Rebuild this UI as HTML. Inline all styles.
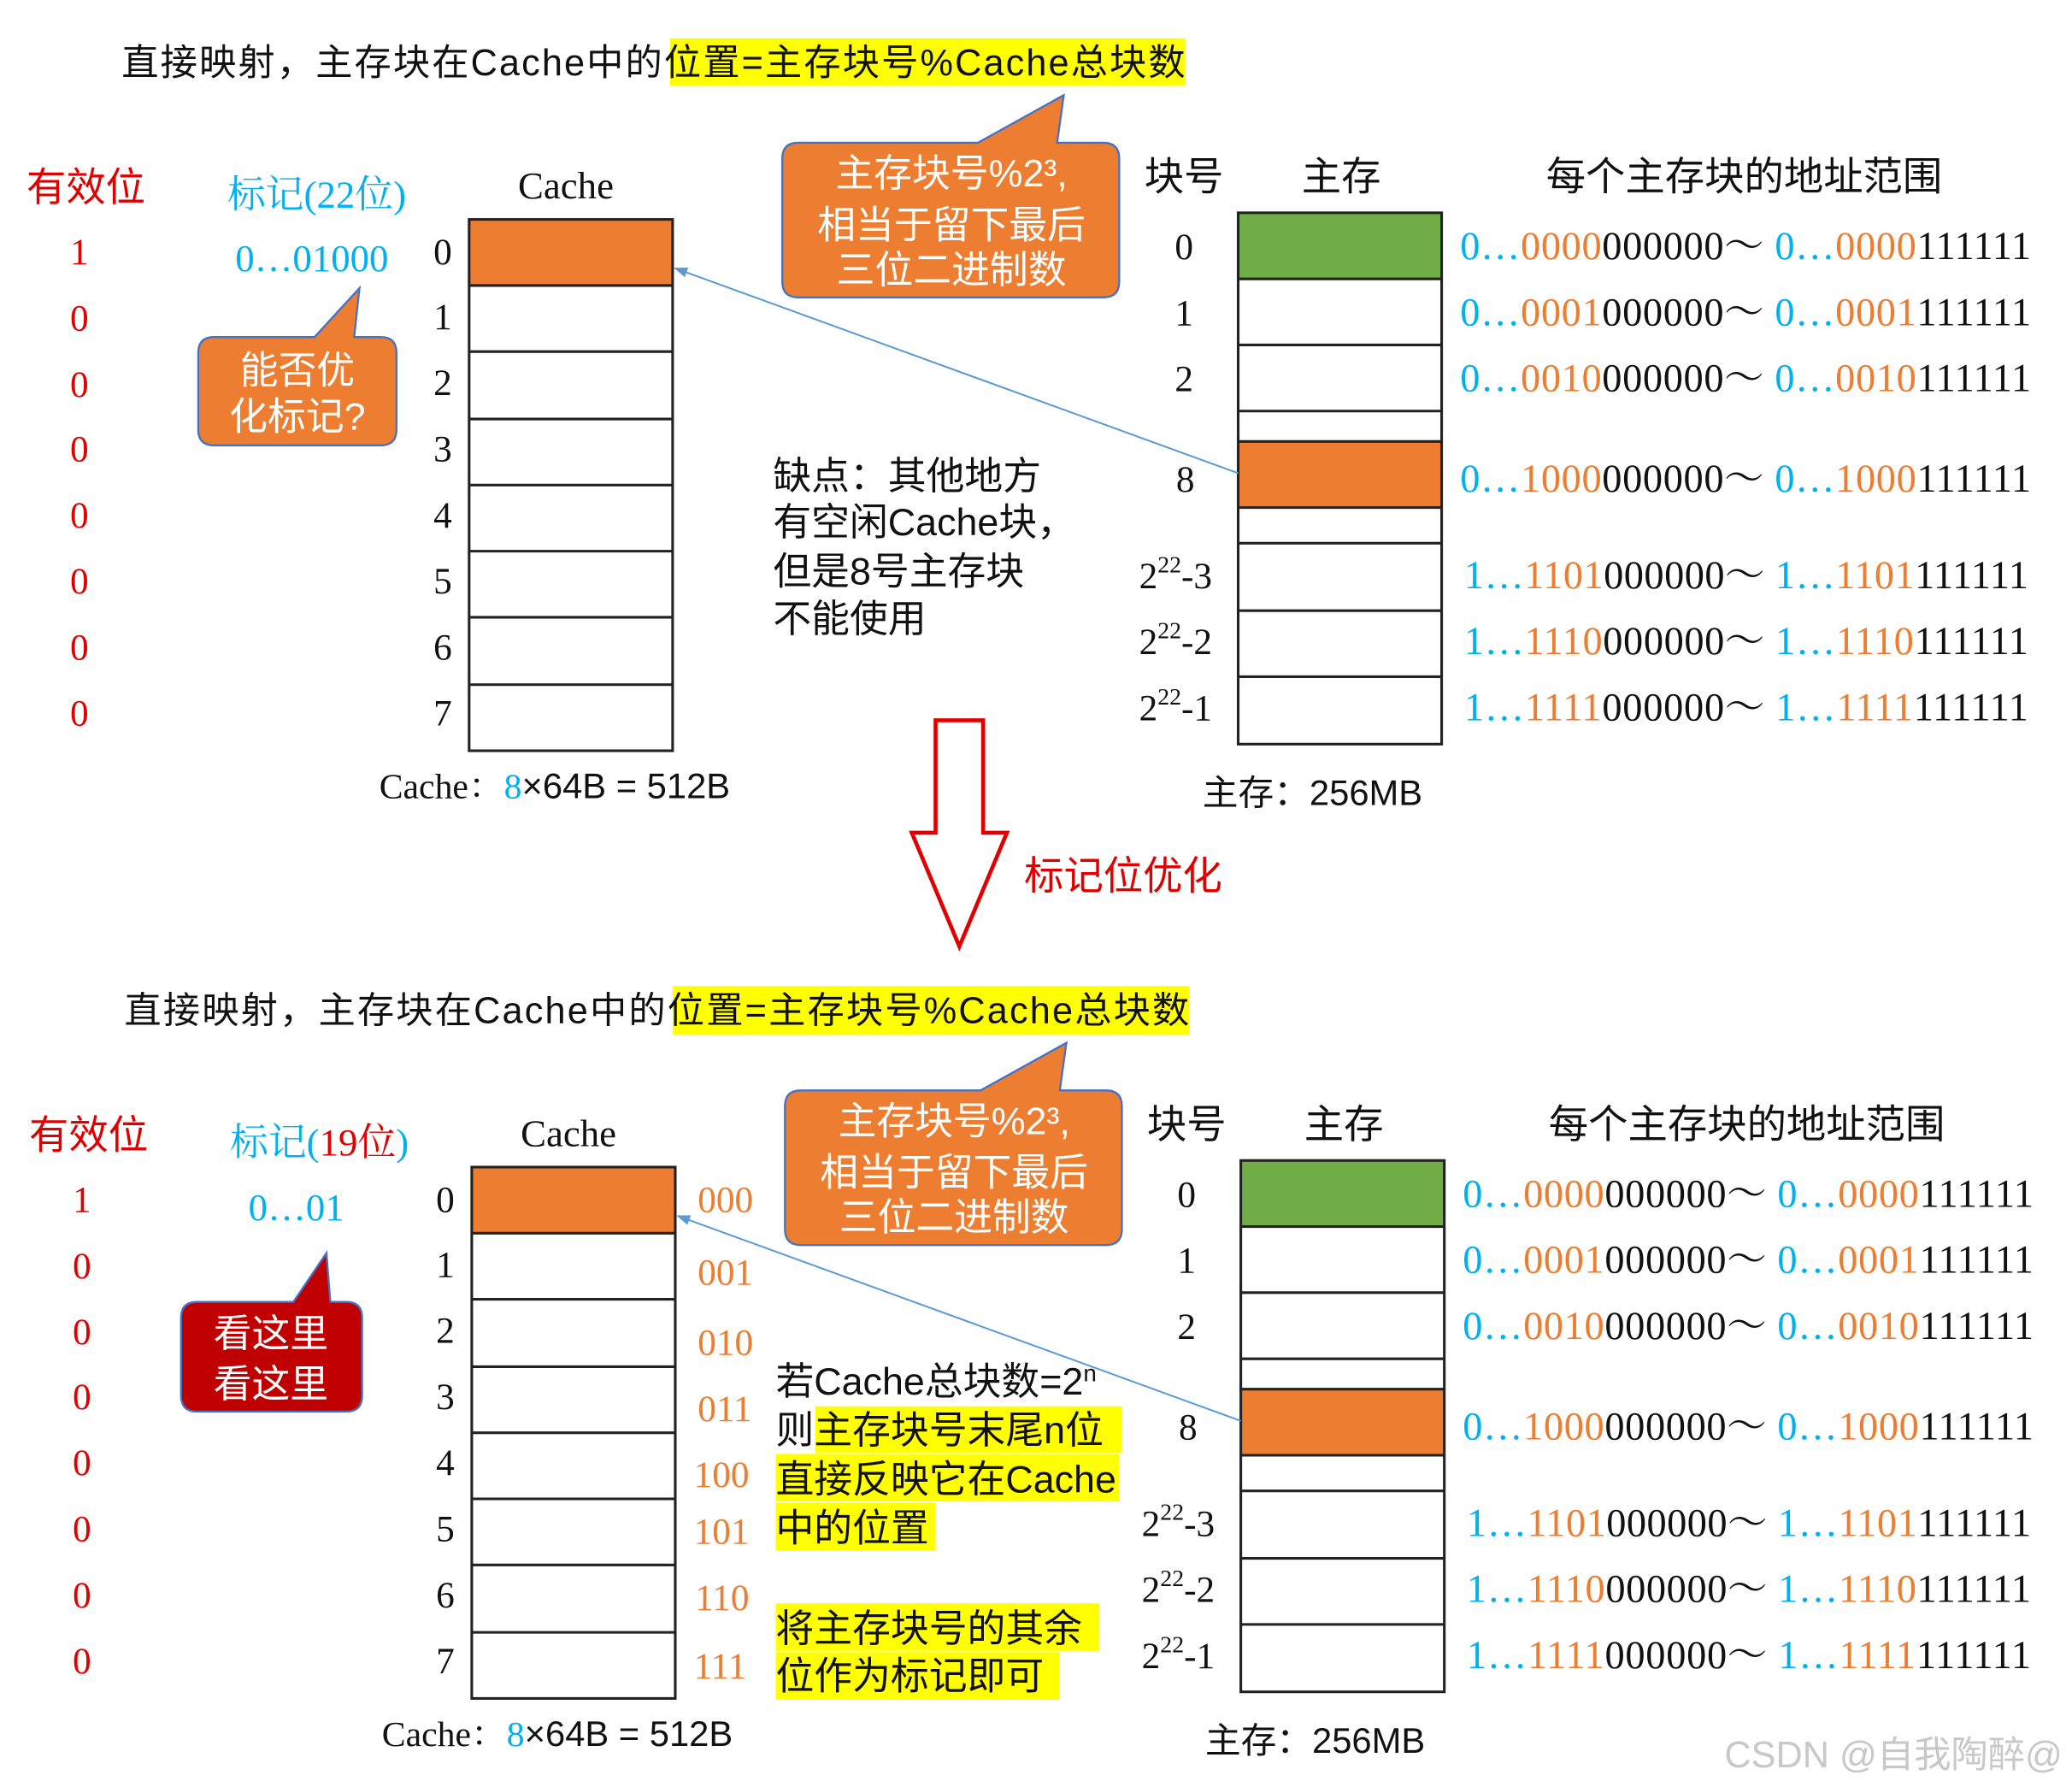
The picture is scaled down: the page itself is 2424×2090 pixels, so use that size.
<!DOCTYPE html>
<html><head><meta charset="utf-8"><style>
html,body{margin:0;padding:0;background:#fff;}
svg{display:block;}
text{font-family:"Liberation Sans","Noto Sans CJK SC",sans-serif;}
.s{font-family:"Liberation Serif","Noto Serif CJK SC",serif;}
</style></head><body>
<svg width="2424" height="2090" viewBox="0 0 1568 1352" xmlns="http://www.w3.org/2000/svg">
<defs>
<marker id="ar" markerWidth="8" markerHeight="8" refX="7" refY="4" orient="auto"><path d="M0,1 L8,4 L0,7 z" fill="#5b9bd5"/></marker>
<g id="panel">
 <text x="20" y="152" font-size="30" fill="#e00000">有效位</text>
 <g fill="#e00000" font-size="28" class="s" text-anchor="middle">
  <text class="s" x="60" y="200">1</text><text class="s" x="60" y="250">0</text><text class="s" x="60" y="300">0</text><text class="s" x="60" y="349">0</text><text class="s" x="60" y="399">0</text><text class="s" x="60" y="449">0</text><text class="s" x="60" y="499">0</text><text class="s" x="60" y="549">0</text>
 </g>
 <text class="s" x="392" y="150" font-size="29" fill="#111">Cache</text>
 <rect x="355" y="166" width="154" height="50" fill="#ed7d31"/>
 <g fill="none" stroke="#222" stroke-width="2">
  <rect x="355" y="166" width="154" height="402"/>
  <line x1="355" y1="216" x2="509" y2="216"/><line x1="355" y1="266" x2="509" y2="266"/><line x1="355" y1="317" x2="509" y2="317"/><line x1="355" y1="367" x2="509" y2="367"/><line x1="355" y1="417" x2="509" y2="417"/><line x1="355" y1="467" x2="509" y2="467"/><line x1="355" y1="518" x2="509" y2="518"/>
 </g>
 <g font-size="28" fill="#111" text-anchor="middle">
  <text class="s" x="335" y="200">0</text><text class="s" x="335" y="249">1</text><text class="s" x="335" y="299">2</text><text class="s" x="335" y="349">3</text><text class="s" x="335" y="399">4</text><text class="s" x="335" y="449">5</text><text class="s" x="335" y="499">6</text><text class="s" x="335" y="549">7</text>
 </g>
 <text x="287" y="604" font-size="27" fill="#111"><tspan class="s">Cache：</tspan><tspan fill="#00b0f0" class="s">8</tspan>×64B = 512B</text>
 <path d="M604,108 L740,108 L805,72 L800,108 L835,108 Q847,108 847,120 L847,213 Q847,225 835,225 L604,225 Q592,225 592,213 L592,120 Q592,108 604,108 z" fill="#ed7d31" stroke="#4472c4" stroke-width="1.5"/>
 <g fill="#fff" font-size="29" text-anchor="middle">
  <text x="720" y="141">主存块号%2³,</text><text x="720" y="180">相当于留下最后</text><text x="720" y="214">三位二进制数</text>
 </g>
 <text x="866" y="144" font-size="30" fill="#111">块号</text>
 <text x="985" y="144" font-size="30" fill="#111">主存</text>
 <text x="1170" y="144" font-size="30" fill="#111">每个主存块的地址范围</text>
 <rect x="937" y="161" width="154" height="50" fill="#70ad47"/>
 <rect x="937" y="334" width="154" height="50" fill="#ed7d31"/>
 <g fill="none" stroke="#222" stroke-width="2">
  <rect x="937" y="161" width="154" height="402"/>
  <line x1="937" y1="211" x2="1091" y2="211"/><line x1="937" y1="261" x2="1091" y2="261"/><line x1="937" y1="311" x2="1091" y2="311"/><line x1="937" y1="334" x2="1091" y2="334"/><line x1="937" y1="384" x2="1091" y2="384"/><line x1="937" y1="411" x2="1091" y2="411"/><line x1="937" y1="462" x2="1091" y2="462"/><line x1="937" y1="512" x2="1091" y2="512"/>
 </g>
 <g font-size="28" fill="#111" text-anchor="middle">
  <text class="s" x="896" y="196">0</text><text class="s" x="896" y="246">1</text><text class="s" x="896" y="296">2</text><text class="s" x="897" y="372">8</text>
 </g>
 <g font-size="28" fill="#111">
  <text class="s" x="862" y="445">2<tspan font-size="18" dy="-12">22</tspan><tspan dy="12">-3</tspan></text>
  <text class="s" x="862" y="495">2<tspan font-size="18" dy="-12">22</tspan><tspan dy="12">-2</tspan></text>
  <text class="s" x="862" y="545">2<tspan font-size="18" dy="-12">22</tspan><tspan dy="12">-1</tspan></text>
 </g>
 <g font-size="30" class="s" fill="#111">
  <text class="s" x="1105" y="196" textLength="432"><tspan fill="#00b0f0">0…</tspan><tspan fill="#ed7d31">0000</tspan>000000～ <tspan fill="#00b0f0">0…</tspan><tspan fill="#ed7d31">0000</tspan>111111</text>
  <text class="s" x="1105" y="246" textLength="432"><tspan fill="#00b0f0">0…</tspan><tspan fill="#ed7d31">0001</tspan>000000～ <tspan fill="#00b0f0">0…</tspan><tspan fill="#ed7d31">0001</tspan>111111</text>
  <text class="s" x="1105" y="296" textLength="432"><tspan fill="#00b0f0">0…</tspan><tspan fill="#ed7d31">0010</tspan>000000～ <tspan fill="#00b0f0">0…</tspan><tspan fill="#ed7d31">0010</tspan>111111</text>
  <text class="s" x="1105" y="372" textLength="432"><tspan fill="#00b0f0">0…</tspan><tspan fill="#ed7d31">1000</tspan>000000～ <tspan fill="#00b0f0">0…</tspan><tspan fill="#ed7d31">1000</tspan>111111</text>
  <text class="s" x="1108" y="445" textLength="427"><tspan fill="#00b0f0">1…</tspan><tspan fill="#ed7d31">1101</tspan>000000～ <tspan fill="#00b0f0">1…</tspan><tspan fill="#ed7d31">1101</tspan>111111</text>
  <text class="s" x="1108" y="495" textLength="427"><tspan fill="#00b0f0">1…</tspan><tspan fill="#ed7d31">1110</tspan>000000～ <tspan fill="#00b0f0">1…</tspan><tspan fill="#ed7d31">1110</tspan>111111</text>
  <text class="s" x="1108" y="545" textLength="427"><tspan fill="#00b0f0">1…</tspan><tspan fill="#ed7d31">1111</tspan>000000～ <tspan fill="#00b0f0">1…</tspan><tspan fill="#ed7d31">1111</tspan>111111</text>
 </g>
 <line x1="937" y1="358" x2="511" y2="203" stroke="#5b9bd5" stroke-width="1.3" marker-end="url(#ar)"/>
 <text x="910" y="609" font-size="27" fill="#111">主存：256MB</text>
</g>
</defs>

<rect x="507" y="29" width="390" height="36" fill="#ffff00"/>
<text x="92" y="57" font-size="28" fill="#111" textLength="805">直接映射，主存块在Cache中的位置=主存块号%Cache总块数</text>
<use href="#panel"/>
<text x="172" y="157" font-size="29" fill="#00b0f0" class="s">标记(22位)</text>
<text x="178" y="205" font-size="29" fill="#00b0f0" class="s">0…01000</text>
<path d="M162,255 L238,255 L272,218 L268,255 L288,255 Q300,255 300,267 L300,325 Q300,337 288,337 L162,337 Q150,337 150,325 L150,267 Q150,255 162,255 z" fill="#ed7d31" stroke="#4472c4" stroke-width="1.5"/>
<text x="225" y="290" font-size="29" fill="#fff" text-anchor="middle">能否优</text>
<text x="225" y="325" font-size="29" fill="#fff" text-anchor="middle">化标记?</text>
<g font-size="29" fill="#111"><text x="585" y="370">缺点：其他地方</text><text x="585" y="405">有空闲Cache块，</text><text x="585" y="442">但是8号主存块</text><text x="585" y="478">不能使用</text></g>
<path d="M708,545 L744,545 L744,630 L762,630 L726,716 L690,630 L708,630 z" fill="#fff" stroke="#e00000" stroke-width="3"/>
<text x="775" y="673" font-size="30" fill="#e00000">标记位优化</text>

<rect x="509" y="746" width="391" height="37" fill="#ffff00"/>
<text x="94" y="774" font-size="28" fill="#111" textLength="806">直接映射，主存块在Cache中的位置=主存块号%Cache总块数</text>
<g transform="translate(2,717)"><use href="#panel"/></g>
<text x="174" y="874" font-size="29" fill="#00b0f0" class="s">标记(<tspan fill="#e00000">19位</tspan>)</text>
<text x="188" y="923" font-size="29" fill="#00b0f0" class="s">0…01</text>
<path d="M149,985 L222,985 L247,948 L250,985 L262,985 Q274,985 274,997 L274,1056 Q274,1068 262,1068 L149,1068 Q137,1068 137,1056 L137,997 Q137,985 149,985 z" fill="#c00000" stroke="#4472c4" stroke-width="1.5"/>
<text x="205" y="1019" font-size="29" fill="#fff" text-anchor="middle">看这里</text>
<text x="205" y="1057" font-size="29" fill="#fff" text-anchor="middle">看这里</text>
<g font-size="28" fill="#ed7d31" class="s">
 <text class="s" x="528" y="917">000</text><text class="s" x="528" y="972">001</text><text class="s" x="528" y="1025">010</text><text class="s" x="528" y="1075">011</text><text class="s" x="525" y="1125">100</text><text class="s" x="525" y="1168">101</text><text class="s" x="526" y="1218">110</text><text class="s" x="525" y="1270">111</text>
</g>
<g fill="#ffff00">
 <rect x="617" y="1064" width="232" height="35"/><rect x="587" y="1100" width="260" height="36"/><rect x="587" y="1137" width="121" height="36"/>
 <rect x="587" y="1213" width="245" height="36"/><rect x="587" y="1250" width="215" height="36"/>
</g>
<g font-size="29" fill="#111">
 <text x="587" y="1055">若Cache总块数=2<tspan font-size="18" dy="-10">n</tspan></text>
 <text x="587" y="1092">则主存块号末尾n位</text>
 <text x="587" y="1129">直接反映它在Cache</text>
 <text x="587" y="1166">中的位置</text>
 <text x="587" y="1242">将主存块号的其余</text>
 <text x="587" y="1278">位作为标记即可</text>
</g>
<text x="1305" y="1337" font-size="28" fill="#c8c8c8">CSDN @自我陶醉@</text>
</svg>
</body></html>
